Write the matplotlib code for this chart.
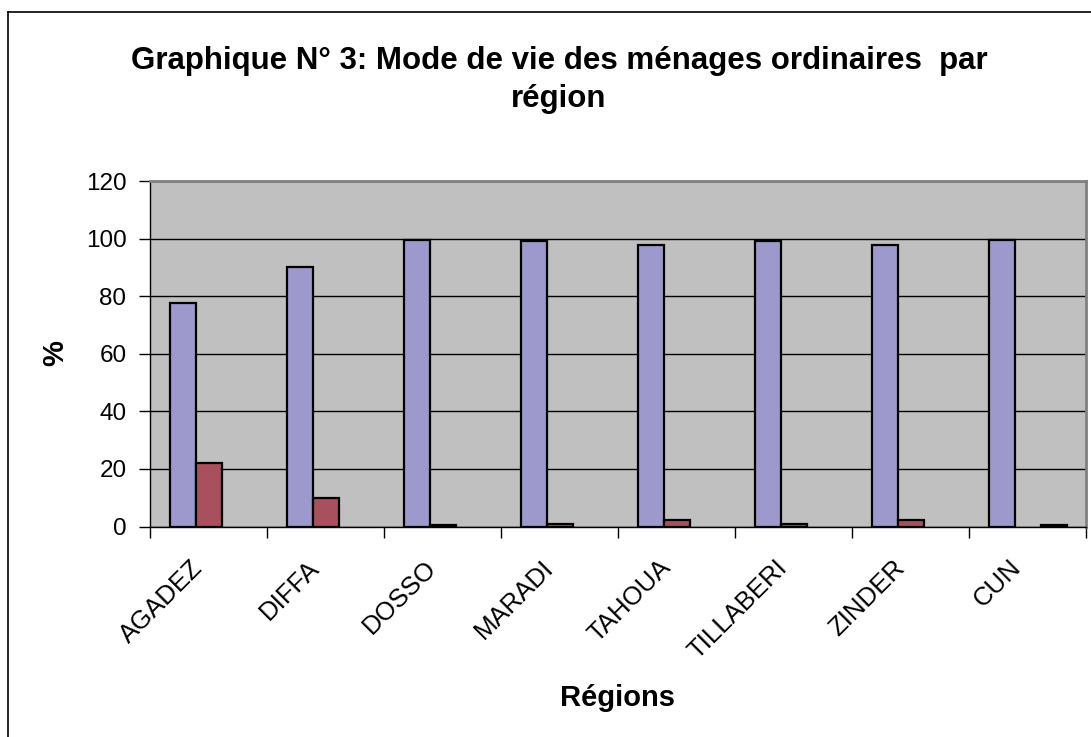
import numpy as np
import matplotlib.pyplot as plt
from matplotlib.lines import Line2D
from matplotlib.transforms import ScaledTranslation

plt.rcParams['font.family'] = ['Liberation Sans', 'DejaVu Sans']

# Data (% of ordinary households by way of life)
regions = ['AGADEZ', 'DIFFA', 'DOSSO', 'MARADI', 'TAHOUA', 'TILLABERI', 'ZINDER', 'CUN']
sedentaire = [77.6, 90.1, 99.65, 99.3, 97.7, 99.0, 97.7, 99.65]
nomade = [22.2, 9.9, 0.35, 0.7, 2.3, 1.0, 2.3, 0.0]
non_declare = [0.0, 0.0, 0.0, 0.0, 0.0, 0.0, 0.0, 0.35]

fig = plt.figure(figsize=(10.91, 7.37), dpi=100)
ax = fig.add_axes([150/1091, 1 - 526.5/737, (1086 - 150)/1091, (526.5 - 181)/737])
ax.set_facecolor('#C0C0C0')

x = np.arange(len(regions))
w = 1 / 4.5  # 3 series, gap width 150%

series = [(sedentaire, '#9E99CC', -w), (nomade, '#A8505E', 0), (non_declare, '#FFFFCC', w)]
for vals, col, off in series:
    lw = [1.6 if v > 0 else 0 for v in vals]
    ax.bar(x + off, vals, w, color=col, edgecolor='black', linewidth=lw, zorder=3)

ax.set_ylim(0, 120)
ax.set_xlim(-0.5, len(regions) - 0.5)
ax.set_yticks(range(0, 121, 20))
ax.yaxis.grid(True, color='black', linewidth=1.0, zorder=0)
ax.tick_params(axis='y', labelsize=17.5, length=8, width=1, pad=9)

ax.set_xticks(np.arange(-0.5, len(regions), 1))
ax.set_xticklabels([])
ax.tick_params(axis='x', which='major', length=8, width=1)
ax.set_xticks(x, minor=True)
ax.set_xticklabels(regions, minor=True, rotation=45, ha='right', va='center',
                   rotation_mode='anchor', fontsize=18.5)
ax.tick_params(axis='x', which='minor', length=0, pad=27)
for lab in ax.get_xticklabels(minor=True):
    lab.set_transform(lab.get_transform() + ScaledTranslation(-0.1, 0, fig.dpi_scale_trans))

for s in ['top', 'right']:
    ax.spines[s].set_color('#808080')
    ax.spines[s].set_linewidth(2)
for s in ['left', 'bottom']:
    ax.spines[s].set_color('black')
    ax.spines[s].set_linewidth(1)

fig.text(559/1091, 1 - 61/737, 'Graphique N° 3: Mode de vie des ménages ordinaires  par',
         ha='center', va='center', fontsize=22.5, fontweight='bold')
fig.text(559/1091, 1 - 99/737, 'région', ha='center', va='center', fontsize=22.5, fontweight='bold')
fig.text(617/1091, 1 - 698/737, 'Régions', ha='center', va='center', fontsize=21, fontweight='bold')
fig.text(55/1091, 1 - 353/737, '%', ha='center', va='center', fontsize=21, fontweight='bold',
         rotation=90)

# chart frame
fig.add_artist(Line2D([8/1091, 8/1091], [0, 1 - 12/737], color='black', linewidth=1.2))
fig.add_artist(Line2D([8/1091, 1], [1 - 12/737, 1 - 12/737], color='black', linewidth=1.2))

fig.savefig('out.png', dpi=100)
